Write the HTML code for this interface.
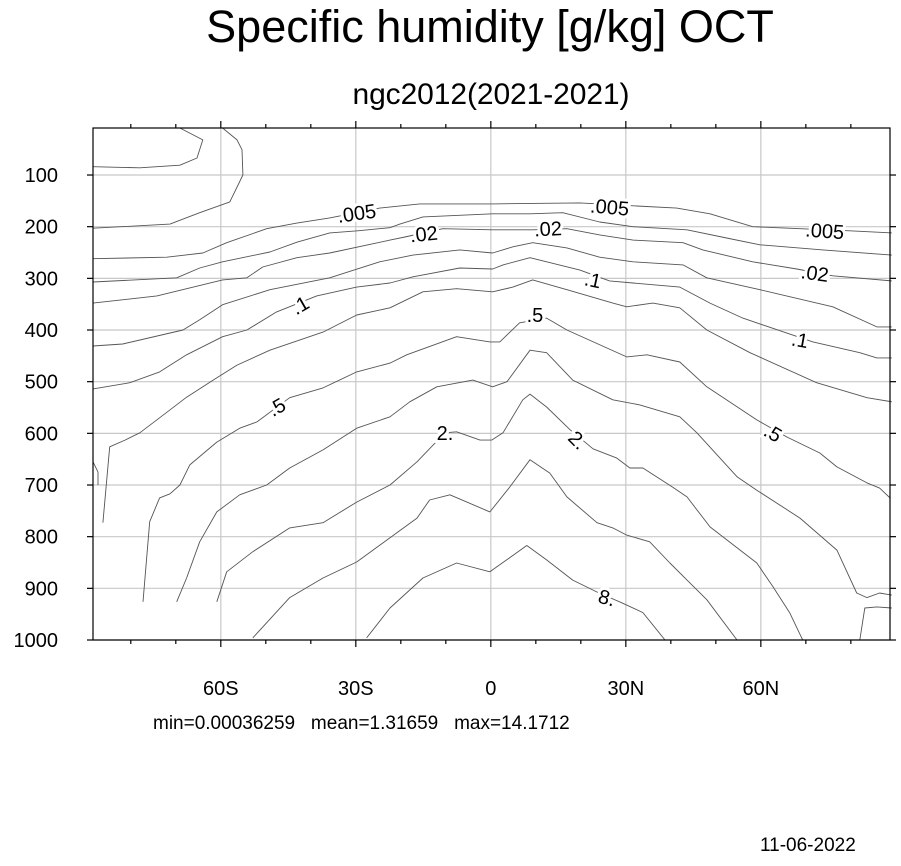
<!DOCTYPE html>
<html><head><meta charset="utf-8"><style>
html,body{margin:0;padding:0;background:#fff;}
body{width:901px;height:861px;overflow:hidden;font-family:"Liberation Sans",sans-serif;}
svg text{font-family:"Liberation Sans",sans-serif;}
</style></head><body>
<svg id="chart" width="901" height="861" viewBox="0 0 901 861">
<text x="490" y="42" text-anchor="middle" font-size="45">Specific humidity [g/kg] OCT</text>
<text x="491" y="104" text-anchor="middle" font-size="30" textLength="277">ngc2012(2021-2021)</text>
<g id="grid"></g>
<g id="contours"></g>
<g id="labels"></g>
<rect x="93" y="128" width="797" height="512" fill="none" stroke="#000" stroke-width="1.2"/>
<g id="axes"></g>
<text x="153" y="729" font-size="19" style="white-space:pre" xml:space="preserve">min=0.00036259   mean=1.31659   max=14.1712</text>
<text x="760" y="851" font-size="19">11-06-2022</text>
</svg>
<script>
const xTickLats=[-60,-30,0,30,60];
const xTickLabels=["60S","30S","0","30N","60N"];
const yTicks=[100,200,300,400,500,600,700,800,900,1000];
const contourNames=["polar-a","polar-b","c005","c01","c02","c05","c1","c2-piece","c2","c5","c10","c10-piece","c20","c40","c80"];
const contourLats=[
[-88.4,-78,-69.1,-65.3,-64,-69.1],
[-88.4,-71.3,-64.7,-58,-55.1,-55.3,-56.4,-59.6],
[-88.4,-72,-64,-58.7,-49.8,-43.1,-35.8,-24.7,-15.8,0.4,19.8,32.4,41.3,48.7,58.2,68.7,79.8,89.1],
[-88.4,-69.8,-64.7,-59.6,-49.1,-43.1,-35.8,-29.6,-22.4,-20.2,-15.1,0.4,8.7,16,24.2,31.6,43.6,52.4,59.8,73.8,89.1],
[-88.4,-74.2,-59.6,-54.2,-50.7,-43.1,-35.8,-22.4,-19.1,-10.7,0.4,9.3,16.9,24.2,31.6,42.7,47.1,58.2,68,76,89.1],
[-88.4,-81.8,-68.4,-64.7,-59.6,-49.1,-35.8,-24.7,-17.3,-6.9,0.4,4.9,9.3,16.9,24.2,31.6,42.7,48,59.8,76,85.8,89.1],
[-88.4,-80.2,-73.6,-67.6,-59.6,-54.2,-47.6,-38.7,-29.8,-22.4,-17.3,-6.9,0.4,2.7,8.7,19.8,26.4,31.6,42,48.7,56,65.8,71.6,82,85.8,89.1],
[-88.4,-87.3,-87.3],
[-86.2,-84.7,-81.3,-78,-73.6,-67.6,-61,-56.4,-49.1,-37.3,-29.8,-22.4,-15.1,-7.6,0.4,4.9,9.3,16.9,27.1,30.2,36,42,48,57.6,72.4,83.6,89.1],
[-77.3,-75.8,-73.6,-71.3,-69.1,-66.9,-60.9,-55.8,-52,-44.7,-37.3,-29.8,-22.4,-18.7,-7.6,-0.2,2,6.4,12.4,16.9,30.2,34.7,42,48,59.1,65.8,73.1,76.9,83.6,86.4,88.7],
[-69.8,-67.6,-64.7,-60.9,-55.8,-49.8,-44.7,-37.3,-29.8,-22.4,-18,-12,-4,0.4,3.6,8.7,12.4,18.2,27.1,33.1,42,45.8,54.7,59.1,68.7,76.9,81.3,83.6,86.4,89.1],
[82,83.1,85.8,89.1],
[-60.9,-58.7,-52.9,-44.7,-37.3,-29.8,-22.4,-16.4,-10.2,-7.6,-2.4,0.2,2.7,7.1,8.7,12.4,17.6,22.7,28,30.9,33.8,40.4,43.6,48.7,59.1,62.7,66.4,69.3],
[-52.9,-44.7,-37.3,-29.8,-22.4,-16.4,-13.6,-9.1,-0.2,4.2,8.7,13.1,16.9,23.6,27.1,30.2,35.3,39.8,43.6,48,54.7],
[-27.6,-22.4,-15.1,-7.6,-0.2,8,12.4,18.2,23.6,29.1,33.8,38.7]
];
const contourPres=[
[84,86,81,67,32,9],
[203,195,173,152,100,51,32,9],
[262,259,251,231,204,193,183,164,156,156,154,160,164,175,200,204,208,212],
[307,299,280,268,249,230,212,208,202,195,181,175,175,173,191,200,206,222,235,245,255],
[348,334,303,299,278,260,251,226,220,204,206,206,204,216,226,231,245,268,282,295,305],
[431,427,400,380,351,322,299,268,255,245,251,239,231,241,259,268,274,299,322,355,394,394],
[514,502,481,448,413,400,365,334,317,309,297,280,282,274,260,284,305,309,317,348,377,406,423,444,454,454],
[655,675,700],
[773,626,613,599,570,530,493,468,439,404,371,357,326,320,326,317,303,322,348,355,348,357,400,444,502,531,539],
[926,771,725,717,700,661,617,590,578,531,512,481,464,448,413,423,423,386,377,400,452,448,462,510,574,607,638,665,696,706,725],
[926,880,810,752,719,700,667,632,590,568,539,510,497,510,500,439,444,497,535,545,568,599,684,710,764,826,909,918,909,913],
[1000,938,936,938],
[926,868,829,783,773,733,700,655,599,597,613,613,599,535,524,549,593,630,648,667,667,704,723,781,851,897,947,1000],
[996,918,880,849,802,764,729,719,752,704,651,677,723,773,783,797,810,851,884,922,1000],
[996,938,880,851,868,817,845,884,907,928,947,1000]
];
const labelTexts=[".005",".02",".1",".5","2.",".005",".02",".1",".5","2.","8.",".005",".02",".1",".5"];
const labelLats=[-29.8,-14.9,-42.4,-47.6,-10.2,26.4,12.7,22.7,9.8,19.3,25.8,74.2,72,68.7,62.7];
const labelPres=[174,214,352,549,599,162,204,303,371,613,918,208,290,419,599];
const labelRots=[-8,-6,-30,-30,0,5,-3,12,0,45,15,4,8,10,30];

const X0=93,X1=890,Y0=128,Y1=640,LAT0=-88.4,LAT1=88.7,P0=9,P1=1000;
function xs(lat){return X0+(lat-LAT0)/(LAT1-LAT0)*(X1-X0);}
function ys(p){return Y0+(p-P0)/(P1-P0)*(Y1-Y0);}
const NS="http://www.w3.org/2000/svg";
function mk(tag,attrs,parent){const e=document.createElementNS(NS,tag);for(const k in attrs)e.setAttribute(k,attrs[k]);parent.appendChild(e);return e;}
const grid=document.getElementById('grid'),cont=document.getElementById('contours'),labs=document.getElementById('labels'),axes=document.getElementById('axes');
yTicks.forEach(p=>{
  const y=ys(p);
  const g=mk('line',{x1:X0,x2:X1,y1:y,y2:y,stroke:'#c8c8c8','stroke-width':1.2},grid);
  
  
  [[X0-6,X0],[X1,X1+6]].forEach(([a,b])=>{const t=mk('line',{x1:a,x2:b,y1:y,y2:y,stroke:'#000','stroke-width':1.2},axes);
    
    });
  const tx=mk('text',{x:58,y:y+7,'text-anchor':'end','font-size':20},axes);
  tx.textContent=String(p);
  
  
});
xTickLats.forEach((lat,i)=>{
  const x=xs(lat);
  const g=mk('line',{x1:x,x2:x,y1:Y0,y2:Y1,stroke:'#c8c8c8','stroke-width':1.2},grid);
  
  
  const tx=mk('text',{x:x,y:695,'text-anchor':'middle','font-size':20},axes);
  tx.textContent=xTickLabels[i];
  
  
});
for(let lat=-80;lat<=80;lat+=10){
  const x=xs(lat),major=(lat%30===0);const L=major?7:4;
  [[Y0-L,Y0],[Y1,Y1+L]].forEach(([a,b])=>{const t=mk('line',{x1:x,x2:x,y1:a,y2:b,stroke:'#000','stroke-width':1.2},axes);
    
    });
}
contourLats.forEach((lats,i)=>{
  const pres=contourPres[i];
  const d=lats.map((l,j)=>(j?'L':'M')+xs(l).toFixed(1)+','+ys(pres[j]).toFixed(1)).join(' ');
  const path=mk('path',{d:d,fill:'none',stroke:'#555','stroke-width':0.9,'stroke-linejoin':'round'},cont);
  
  
});
labelTexts.forEach((t,i)=>{
  const x=xs(labelLats[i]),y=ys(labelPres[i]);
  const tx=mk('text',{x:x,y:y+7,'text-anchor':'middle','font-size':20,stroke:'#fff','stroke-width':6,'paint-order':'stroke',transform:'rotate('+labelRots[i]+' '+x+' '+y+')'},labs);
  tx.textContent=t;
  
  
});
</script>
</body></html>
